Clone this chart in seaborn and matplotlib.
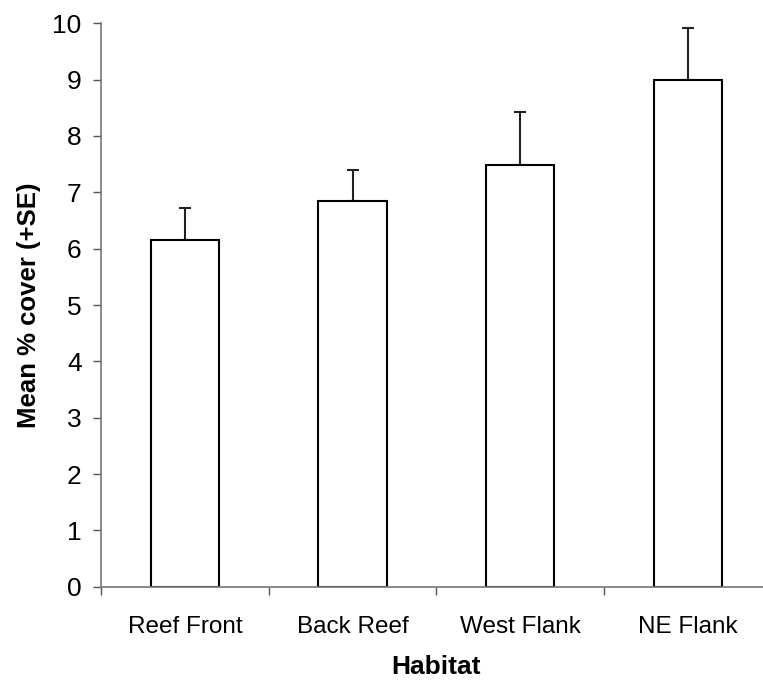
import matplotlib
matplotlib.use("Agg")
import matplotlib.pyplot as plt
import seaborn as sns
import numpy as np
import pandas as pd

# Mean percent cover by habitat, with standard errors
habitats = ["Reef Front", "Back Reef", "West Flank", "NE Flank"]
mean_cover = [6.16, 6.85, 7.48, 9.0]
se_cover = [0.57, 0.54, 0.94, 0.91]
y_ticks = [0, 1, 2, 3, 4, 5, 6, 7, 8, 9, 10]

df = pd.DataFrame({"Habitat": habitats, "Mean": mean_cover, "SE": se_cover})

sns.set_style("white")
plt.rcParams["font.family"] = ["Liberation Sans", "DejaVu Sans"]

fig = plt.figure(figsize=(7.63, 6.8), dpi=100)
ax = fig.add_axes([0.1324, 0.1372, 0.879, 0.8285])

sns.barplot(data=df, x="Habitat", y="Mean", color="white", edgecolor="black",
            linewidth=1.5, width=0.406, errorbar=None, ax=ax, zorder=2)

# upward-only standard error bars
xpos = np.arange(len(habitats))
ax.errorbar(xpos, df["Mean"], yerr=[np.zeros(len(habitats)), df["SE"]],
            fmt="none", ecolor="#222222", elinewidth=1.5, capsize=4.5,
            capthick=1.5, zorder=1)

ax.set_xlim(-0.5, len(habitats) - 0.5)
ax.set_ylim(0, 10)
ax.set_yticks(y_ticks)
ax.set_yticklabels([str(t) for t in y_ticks])

# tick marks between categories, labels centred under bars
ax.set_xticks(np.arange(-0.5, len(habitats), 1.0))
ax.set_xticklabels([""] * (len(habitats) + 1))
ax.set_xticks(xpos, minor=True)
ax.set_xticklabels(habitats, minor=True)
ax.tick_params(axis="x", which="major", direction="out", length=6,
               width=1, color="#555555", bottom=True)
ax.tick_params(axis="x", which="minor", length=0, pad=21, labelsize=17.5,
               labelcolor="black")
ax.tick_params(axis="y", direction="out", length=6, width=1,
               color="#555555", left=True, pad=8, labelsize=19,
               labelcolor="black")

for side in ["top", "right"]:
    ax.spines[side].set_visible(False)
for side in ["left", "bottom"]:
    ax.spines[side].set_color("#777777")
    ax.spines[side].set_linewidth(1.2)

ax.set_xlabel("Habitat", fontsize=19, fontweight="bold", labelpad=12,
              color="black")
ax.set_ylabel("Mean % cover (+SE)", fontsize=18.5, fontweight="bold",
              labelpad=8, color="black")

fig.savefig("out.png", dpi=100)
